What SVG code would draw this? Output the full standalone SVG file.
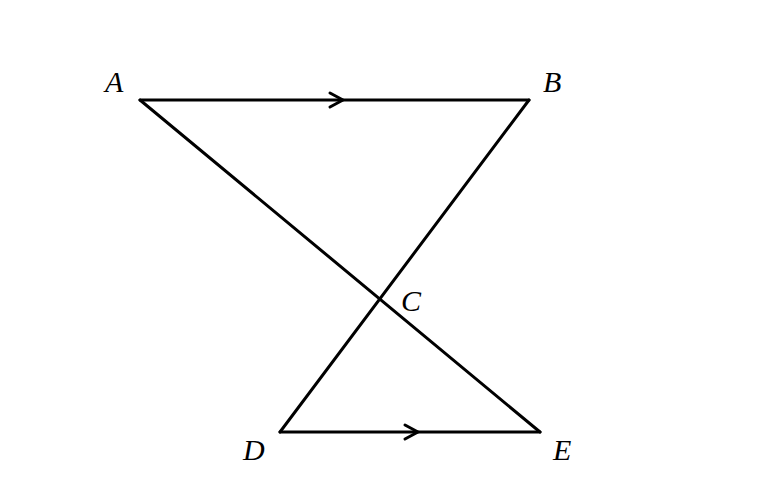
<svg xmlns="http://www.w3.org/2000/svg" width="760" height="500" viewBox="0 0 760 500">
<style>
.ln{stroke:#000;stroke-width:3;fill:none;stroke-linecap:round;stroke-linejoin:round}
.lb{font-family:"Liberation Serif","DejaVu Serif",serif;font-style:italic;font-size:30px;fill:#000}
</style>
<rect width="760" height="500" fill="#fff"/>
<g id="connectors">
<line class="ln" x1="140" y1="100" x2="529" y2="100"/>
<line class="ln" x1="140" y1="100" x2="540" y2="432"/>
<line class="ln" x1="529" y1="100" x2="280" y2="432"/>
<line class="ln" x1="280" y1="432" x2="540" y2="432"/>
<polyline class="ln" points="330,93 343,100 330,107"/>
<polyline class="ln" points="405,425 418,432 405,439"/>
</g>
<g id="A"><text class="lb" x="105" y="92">A</text></g>
<g id="B"><text class="lb" x="543" y="92">B</text></g>
<g id="C"><text class="lb" x="401" y="311">C</text></g>
<g id="D"><text class="lb" x="243" y="460">D</text></g>
<g id="E"><text class="lb" x="553" y="460">E</text></g>
</svg>
